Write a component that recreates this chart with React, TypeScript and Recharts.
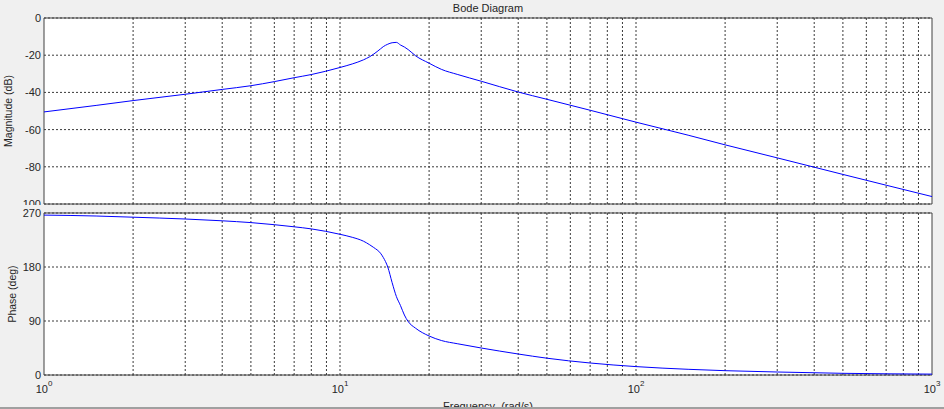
import React from "react";
import {
  LineChart,
  Line,
  XAxis,
  YAxis,
  CartesianGrid,
  ReferenceLine,
  ReferenceArea,
} from "recharts";

// frequency samples (rad/s)
const freqs = [
  1, 1.5, 2, 3, 4, 5, 6, 7, 8, 10, 11, 12, 12.6, 13, 13.7, 14, 14.5, 15, 15.5,
  16, 16.5, 17, 18, 20, 22, 25, 30, 40, 50, 70, 100, 150, 200, 300, 500, 700,
  1000,
];

// magnitude in dB
const magnitude = [
  -50.5, -47, -44.4, -41, -38.4, -36.4, -34.2, -32.1, -30.4, -26.6, -24.7,
  -22.5, -20.8, -19.4, -16.6, -15.4, -14.1, -13.3, -13.1, -14.5, -15.6, -17,
  -20.3, -24.3, -27.6, -30.4, -34, -39.8, -43.7, -49.6, -56, -63, -68.2,
  -75.2, -84.1, -89.9, -96,
];

// phase in degrees
const phase = [
  266.5, 265, 263, 260, 257, 254, 250.5, 247, 243.5, 234.5, 229.5, 223, 217,
  212.5, 203, 196, 180, 154, 131, 116, 100, 89, 78, 65, 57.5, 52, 45, 35, 28,
  20, 14, 9.5, 7.2, 5, 2.8, 2, 1.5,
];

const decadeTicks = [1, 10, 100, 1000];
const gridFreqs = [
  2, 3, 4, 5, 6, 7, 8, 9, 10, 20, 30, 40, 50, 60, 70, 80, 90, 100, 200, 300,
  400, 500, 600, 700, 800, 900,
];
const magTicks = [-100, -80, -60, -40, -20, 0];
const phaseTicks = [0, 90, 180, 270];

const data = freqs.map((f, i) => ({ f, mag: magnitude[i], ph: phase[i] }));

const FONT = '"Liberation Sans", Arial, sans-serif';
const TXT = "#262626";
const GRID = "#3a3a3a";
const BOX = "#404040";

const tickStyle = { fontSize: 11, fill: TXT, fontFamily: FONT };

function DecadeTick(props: any) {
  const { x, y, payload } = props;
  const exp = Math.round(Math.log10(payload.value));
  return (
    <text
      x={x}
      y={y + 18}
      textAnchor="middle"
      fontSize={11}
      fill={TXT}
      fontFamily={FONT}
    >
      <tspan>10</tspan>
      <tspan dy={-7} fontSize={8}>
        {exp}
      </tspan>
    </text>
  );
}

function gridLines() {
  return gridFreqs.map((g) => (
    <ReferenceLine
      key={g}
      x={g}
      stroke={GRID}
      strokeDasharray="2 2"
      strokeWidth={1}
    />
  ));
}

export default function App() {
  return (
    <div
      style={{
        position: "absolute",
        left: 0,
        top: 0,
        width: 944,
        height: 409,
        background: "#f0f0f0",
        overflow: "hidden",
        fontFamily: FONT,
      }}
    >
      {/* magnitude */}
      <div style={{ position: "absolute", left: 0, top: 0 }}>
        <LineChart
          width={944}
          height={210}
          data={data}
          margin={{ top: 18, right: 12, bottom: 6, left: 0 }}
        >
          <CartesianGrid
            vertical={false}
            stroke={GRID}
            strokeDasharray="2 2"
            fill="#fff"
            fillOpacity={1}
          />
          <XAxis
            dataKey="f"
            type="number"
            scale="log"
            domain={[1, 1000]}
            allowDataOverflow
            ticks={decadeTicks}
            hide
          />
          <YAxis
            width={44}
            domain={[-100, 0]}
            ticks={magTicks}
            interval={0}
            tick={tickStyle}
            tickLine={false}
            axisLine={false}
            tickSize={3}
            tickMargin={0}
          />
          {gridLines()}
          <ReferenceArea
            x1={1}
            x2={1000}
            y1={-100}
            y2={0}
            fill="none"
            stroke={BOX}
            strokeWidth={1}
          />
          <Line
            dataKey="mag"
            type="monotone"
            stroke="#0000ff"
            strokeWidth={1}
            dot={false}
            isAnimationActive={false}
          />
        </LineChart>
      </div>

      {/* phase */}
      <div
        style={{
          position: "absolute",
          left: 0,
          top: 205,
          background: "#f0f0f0",
        }}
      >
        <LineChart
          width={944}
          height={200}
          data={data}
          margin={{ top: 8, right: 12, bottom: 6, left: 0 }}
        >
          <CartesianGrid
            vertical={false}
            stroke={GRID}
            strokeDasharray="2 2"
            fill="#fff"
            fillOpacity={1}
          />
          <XAxis
            dataKey="f"
            type="number"
            scale="log"
            domain={[1, 1000]}
            allowDataOverflow
            ticks={decadeTicks}
            interval={0}
            height={24}
            tick={<DecadeTick />}
            tickLine={false}
            axisLine={false}
            tickSize={0}
            tickMargin={0}
          />
          <YAxis
            width={44}
            domain={[0, 270]}
            ticks={phaseTicks}
            interval={0}
            tick={tickStyle}
            tickLine={false}
            axisLine={false}
            tickSize={3}
            tickMargin={0}
          />
          {gridLines()}
          <ReferenceArea
            x1={1}
            x2={1000}
            y1={0}
            y2={270}
            fill="none"
            stroke={BOX}
            strokeWidth={1}
          />
          <Line
            dataKey="ph"
            type="monotone"
            stroke="#0000ff"
            strokeWidth={1}
            dot={false}
            isAnimationActive={false}
          />
        </LineChart>
      </div>

      {/* titles and axis labels */}
      <svg
        width={944}
        height={409}
        style={{ position: "absolute", left: 0, top: 0, pointerEvents: "none" }}
      >
        <text
          x={488}
          y={12}
          textAnchor="middle"
          fontSize={11}
          fill={TXT}
          fontFamily={FONT}
        >
          Bode Diagram
        </text>
        <text
          transform="translate(12,111) rotate(-90)"
          textAnchor="middle"
          fontSize={10.5}
          fill={TXT}
          fontFamily={FONT}
        >
          Magnitude (dB)
        </text>
        <text
          transform="translate(15.5,294) rotate(-90)"
          textAnchor="middle"
          fontSize={10.5}
          fill={TXT}
          fontFamily={FONT}
        >
          Phase (deg)
        </text>
        <text
          x={488}
          y={410}
          textAnchor="middle"
          fontSize={11}
          fill={TXT}
          fontFamily={FONT}
          style={{ whiteSpace: "pre" }}
        >
          {"Frequency  (rad/s)"}
        </text>
      </svg>
      <div
        style={{
          position: "absolute",
          left: 0,
          top: 407,
          width: 944,
          height: 2,
          background: "#a0a0a0",
        }}
      />
    </div>
  );
}
